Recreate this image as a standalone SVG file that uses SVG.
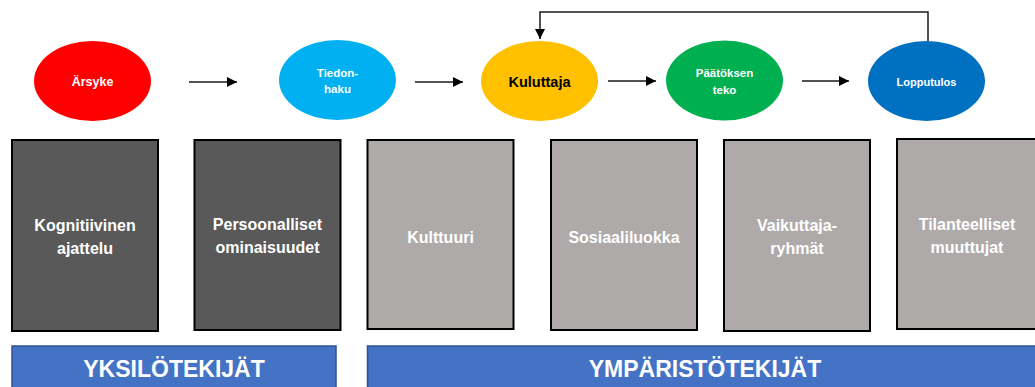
<svg xmlns="http://www.w3.org/2000/svg" width="1035" height="387" viewBox="0 0 1035 387">
  <style>
    .lbl { font-family: "Liberation Sans", Arial, sans-serif; font-weight: bold; text-anchor: middle; dominant-baseline: central; }
    .oval { font-size: 11.5px; fill: #ffffff; }
    .box { stroke: #000000; stroke-width: 2; }
    .dark { fill: #595959; }
    .light { fill: #aeaaaa; }
    .boxtxt { font-size: 16px; fill: #ffffff; }
    .band { fill: #4472c4; stroke: #2f528f; stroke-width: 1.5; }
    .bandtxt { font-size: 23px; fill: #ffffff; }
    .conn { stroke: #1a1a1a; stroke-width: 1.5; fill: none; }
  </style>
  <defs>
    <marker id="head" viewBox="0 0 10 10" refX="10" refY="5" markerWidth="10" markerHeight="10" markerUnits="userSpaceOnUse" orient="auto">
      <path d="M0,0 L10,5 L0,10 Z" fill="#000000"/>
    </marker>
  </defs>
  <rect width="1035" height="387" fill="#ffffff"/>

  <!-- process flow -->
  <g id="arsyke">
    <ellipse cx="92.5" cy="81" rx="58.5" ry="40" fill="#ff0000"/>
    <text class="lbl oval" x="92.5" y="82" style="font-size:12.5px">Ärsyke</text>
  </g>
  <g id="tiedonhaku">
    <ellipse cx="337.5" cy="80" rx="58.5" ry="40" fill="#00b0f0"/>
    <text class="lbl oval" x="337.5" y="73">Tiedon-</text>
    <text class="lbl oval" x="337.5" y="89">haku</text>
  </g>
  <g id="kuluttaja">
    <ellipse cx="539.5" cy="81" rx="58.5" ry="40" fill="#ffc000"/>
    <text class="lbl" x="539.5" y="82" style="font-size:14.5px" fill="#000000">Kuluttaja</text>
  </g>
  <g id="paatoksenteko">
    <ellipse cx="724.5" cy="80.5" rx="58.5" ry="40" fill="#00b050"/>
    <text class="lbl oval" x="724.5" y="73">Päätöksen</text>
    <text class="lbl oval" x="724.5" y="90">teko</text>
  </g>
  <g id="lopputulos">
    <ellipse cx="926.5" cy="81" rx="58.5" ry="40" fill="#0070c0"/>
    <text class="lbl oval" x="926.5" y="82" style="font-size:11px">Lopputulos</text>
  </g>

  <g id="connectors">
    <line class="conn" x1="189" y1="82" x2="237" y2="82" marker-end="url(#head)"/>
    <line class="conn" x1="415" y1="82" x2="463" y2="82" marker-end="url(#head)"/>
    <line class="conn" x1="608" y1="81" x2="656" y2="81" marker-end="url(#head)"/>
    <line class="conn" x1="802" y1="81" x2="849" y2="81" marker-end="url(#head)"/>
    <polyline class="conn" points="928,41 928,12 540,12 540,39" marker-end="url(#head)"/>
  </g>

  <!-- factor columns -->
  <g id="kognitiivinen">
    <rect class="box dark" x="12" y="140" width="146" height="191"/>
    <text class="lbl boxtxt" x="85" y="225">Kognitiivinen</text>
    <text class="lbl boxtxt" x="85" y="248">ajattelu</text>
  </g>
  <g id="persoonalliset">
    <rect class="box dark" x="194.5" y="140" width="146" height="190"/>
    <text class="lbl boxtxt" x="267.5" y="224">Persoonalliset</text>
    <text class="lbl boxtxt" x="267.5" y="247">ominaisuudet</text>
  </g>
  <g id="kulttuuri">
    <rect class="box light" x="367.5" y="140" width="146" height="189"/>
    <text class="lbl boxtxt" x="440.5" y="237">Kulttuuri</text>
  </g>
  <g id="sosiaaliluokka">
    <rect class="box light" x="551" y="140" width="146" height="190"/>
    <text class="lbl boxtxt" x="624" y="237">Sosiaaliluokka</text>
  </g>
  <g id="vaikuttajaryhmat">
    <rect class="box light" x="724" y="140" width="146" height="191"/>
    <text class="lbl boxtxt" x="797" y="225">Vaikuttaja-</text>
    <text class="lbl boxtxt" x="797" y="248">ryhmät</text>
  </g>
  <g id="tilanteelliset">
    <rect class="box light" x="897" y="139" width="146" height="190"/>
    <text class="lbl boxtxt" x="967" y="224">Tilanteelliset</text>
    <text class="lbl boxtxt" x="967" y="247">muuttujat</text>
  </g>

  <!-- group banners -->
  <g id="yksilotekijat">
    <rect class="band" x="12" y="346" width="324" height="50"/>
    <text class="lbl bandtxt" x="174" y="369">YKSILÖTEKIJÄT</text>
  </g>
  <g id="ymparistotekijat">
    <rect class="band" x="367.5" y="346" width="680" height="50"/>
    <text class="lbl bandtxt" x="705" y="369">YMPÄRISTÖTEKIJÄT</text>
  </g>
</svg>
